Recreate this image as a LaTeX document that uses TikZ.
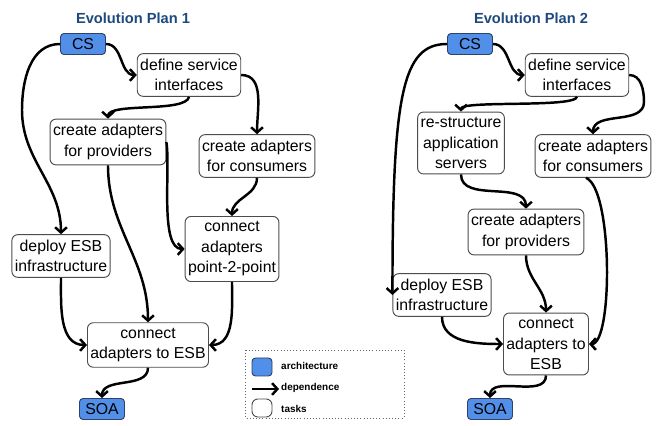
\documentclass[tikz,border=0pt]{standalone}
\usepackage{fontspec}
\setmainfont{Liberation Sans}
\usetikzlibrary{arrows.meta}
\definecolor{archblue}{RGB}{82,143,232}
\definecolor{archline}{RGB}{45,65,105}
\definecolor{titleblue}{RGB}{31,73,125}

\begin{document}
\begin{tikzpicture}[x=0.03cm,y=0.03cm,
  task/.style={draw=black!70,line width=0.8pt,rounded corners=5pt,fill=white,align=center,
    font=\fontsize{13.5}{17.5}\selectfont,inner xsep=2.5pt,inner ysep=4.5pt},
  arch/.style={draw=archline,line width=0.8pt,fill=archblue,rounded corners=3pt,
    font=\fontsize{13.5}{15}\selectfont,minimum width=1.35cm,minimum height=0.63cm,inner sep=0pt},
  title/.style={font=\bfseries\fontsize{12.5}{15}\selectfont,text=titleblue},
  dep/.style={line width=2.1pt,-{Straight Barb[length=4.5pt,width=10pt]}},
  legtext/.style={font=\bfseries\fontsize{8.5}{10}\selectfont,anchor=west,inner sep=0pt},
  legframe/.style={draw=black!60,dotted,line width=0.7pt}]
\useasboundingbox (0,0) rectangle (660,-426);

% Evolution Plan 1
\node[title] (T1) at (133,-18) {Evolution Plan 1};
\node[arch] (CS1) at (83,-44) {CS};
\node[task] (DEF1) at (189,-75) {define service\\interfaces};
\node[task] (PROV1) at (108,-142) {create adapters\\for providers};
\node[task] (CONS1) at (257,-156) {create adapters\\for consumers};
\node[task] (ESB1) at (61,-256) {deploy ESB\\infrastructure};
\node[task] (P2P1) at (232,-249) {connect\\adapters\\point-2-point};
\node[task] (CON1) at (148,-345) {connect\\adapters to ESB};
\node[arch] (SOA1) at (102,-409) {SOA};

\path [dep] (CS1.east) edge[out=0,in=180] (DEF1.west);
\draw [dep] (CS1.west) to[out=180,in=90] (22,-110) to[out=-90,in=90] (ESB1.north);
\path [dep] (DEF1.south) edge[out=-100,in=90,looseness=0.5] (PROV1.north);
\path [dep] (DEF1.east) edge[out=0,in=90] (CONS1.north);
\path [dep] (CONS1.south) edge[out=-90,in=90] (P2P1.north);
\path [dep] (PROV1.east) edge[out=-80,in=180,looseness=0.6] (P2P1.west);
\path [dep] (PROV1.south) edge[out=-90,in=90] (CON1.north);
\path [dep] (ESB1.south) edge[out=-90,in=180] (CON1.west);
\path [dep] (P2P1.south) edge[out=-90,in=0] (CON1.east);
\path [dep] (CON1.south) edge[out=-90,in=90] (SOA1.north);

% Evolution Plan 2
\node[title] (T2) at (531,-18) {Evolution Plan 2};
\node[arch] (CS2) at (470,-44) {CS};
\node[task] (DEF2) at (577,-75) {define service\\interfaces};
\node[task] (RES2) at (461,-143) {re-structure\\application\\servers};
\node[task] (CONS2) at (593,-156) {create adapters\\for consumers};
\node[task] (PROV2) at (526,-232) {create adapters\\for providers};
\node[task] (ESB2) at (442,-295) {deploy ESB\\infrastructure};
\node[task] (CON2) at (546,-344) {connect\\adapters to\\ESB};
\node[arch] (SOA2) at (490,-409) {SOA};

\path [dep] (CS2.east) edge[out=0,in=180] (DEF2.west);
\draw [dep] (CS2.west) .. controls +(-45,0) and +(0,200) .. (ESB2.west);
\path [dep] (DEF2.south) edge[out=-100,in=90,looseness=0.25] (RES2.north);
\draw [dep] (DEF2.east) to[out=0,in=90] (644,-102) to[out=-90,in=90] (CONS2.north);
\path [dep] (RES2.south) edge[out=-90,in=90] (PROV2.north);
\path [dep] (PROV2.south) edge[out=-90,in=90] (CON2.north);
\draw [dep] ([xshift=-6pt]CONS2.south) .. controls +(27,-11) and +(24,0) .. (CON2.east);
\path [dep] (ESB2.south) edge[out=-90,in=180] (CON2.west);
\path [dep] (CON2.south) edge[out=-90,in=90] (SOA2.north);

% legend
\draw [legframe] (245,-350) rectangle (404,-418);
\node[arch,minimum width=0.6cm,minimum height=0.54cm] (LA) at (262,-367) {};
\coordinate (LDa) at (252,-389);
\coordinate (LDb) at (279,-389);
\draw [dep] (LDa) -- (LDb);
\node[task,minimum width=0.6cm,minimum height=0.54cm,inner sep=0pt] (LT) at (262,-408) {};
\node[legtext] (LAt) at (281,-366) {architecture};
\node[legtext] (LDt) at (281,-388) {dependence};
\node[legtext] (LTt) at (281,-409) {tasks};
\end{tikzpicture}
\end{document}
